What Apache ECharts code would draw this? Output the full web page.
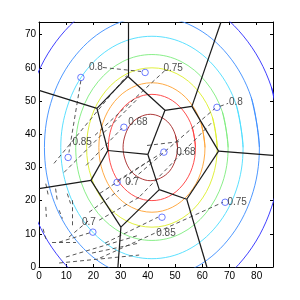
<!DOCTYPE html>
<html><head><meta charset="utf-8">
<script src="https://cdn.jsdelivr.net/npm/echarts@6/dist/echarts.min.js"></script>
<style>html,body{margin:0;padding:0;background:#fff}#c{width:300px;height:300px}</style>
</head><body><div id="c"></div>
<script>
// ---- data ----
const xTicks = [0,10,20,30,40,50,60,70,80];
const yTicks = [0,10,20,30,40,50,60,70];
const xMax = 86, yMax = 73.8;

// contour lines (outer -> inner)
const contourBlue = [[89,36],[85.4,54.2],[75.1,69.6],[59.7,79.9],[41.5,83.5],[23.3,79.9],[7.9,69.6],[-2.4,54.2],[-6,36],[-2.4,17.8],[7.9,2.4],[23.3,-7.9],[41.5,-11.5],[59.7,-7.9],[75.1,2.4],[85.4,17.8],[89,36],[85.4,54.2]];
const contourAzure = [[81,36],[78,51.1],[69.4,63.9],[56.6,72.5],[41.5,75.5],[26.4,72.5],[13.6,63.9],[5,51.1],[2,36],[5,20.9],[13.6,8.1],[26.4,-0.5],[41.5,-3.5],[56.6,-0.5],[69.4,8.1],[78,20.9],[81,36],[78,51.1]];
const contourCyan = [[75,36],[72.5,48.8],[65.2,59.7],[54.3,67],[41.5,69.5],[28.7,67],[17.8,59.7],[10.6,48.8],[8,36],[10.6,23.2],[17.8,12.3],[28.7,5],[41.5,2.5],[54.3,5],[65.2,12.3],[72.5,23.2],[75,36],[72.5,48.8]];
const contourGreen = [[69.5,36],[67.4,46.7],[61.3,55.8],[52.2,61.9],[41.5,64],[30.8,61.9],[21.7,55.8],[15.6,46.7],[13.5,36],[15.6,25.3],[21.7,16.2],[30.8,10.1],[41.5,8],[52.2,10.1],[61.3,16.2],[67.4,25.3],[69.5,36],[67.4,46.7]];
const contourYellow = [[65.5,36],[63.7,45.2],[58.5,53],[50.7,58.2],[41.5,60],[32.3,58.2],[24.5,53],[19.3,45.2],[17.5,36],[19.3,26.8],[24.5,19],[32.3,13.8],[41.5,12],[50.7,13.8],[58.5,19],[63.7,26.8],[65.5,36],[63.7,45.2]];
const contourOrange = [[61,36],[59.5,43.5],[55.3,49.8],[49,54],[41.5,55.5],[34,54],[27.7,49.8],[23.5,43.5],[22,36],[23.5,28.5],[27.7,22.2],[34,18],[41.5,16.5],[49,18],[55.3,22.2],[59.5,28.5],[61,36],[59.5,43.5]];
const contourRed = [[57.5,36],[56.3,42.1],[52.8,47.3],[47.6,50.8],[41.5,52],[35.4,50.8],[30.2,47.3],[26.7,42.1],[25.5,36],[26.7,29.9],[30.2,24.7],[35.4,21.2],[41.5,20],[47.6,21.2],[52.8,24.7],[56.3,29.9],[57.5,36],[56.3,42.1]];
const contourDarkRed = [[50.9,36],[50.1,39.8],[48,43.1],[44.7,45.2],[40.9,46],[37.1,45.2],[33.8,43.1],[31.7,39.8],[30.9,36],[31.7,32.2],[33.8,28.9],[37.1,26.8],[40.9,26],[44.7,26.8],[48,28.9],[50.1,32.2],[50.9,36],[50.1,39.8]];

// Voronoi edges
const voronoiEdges = [
  [[0,53.2],[21.3,47.8]], [[21.3,47.8],[32.7,57.4]], [[21.3,47.8],[25.3,35.1]],
  [[32.7,57.4],[32.7,73.8]], [[32.7,57.4],[46.3,47.2]], [[46.3,47.2],[56.2,48.4]],
  [[46.3,47.2],[40.0,33.9]], [[56.2,48.4],[66.9,73.8]], [[56.2,48.4],[66.0,34.9]],
  [[66.0,34.9],[86,33.6]], [[66.0,34.9],[54.3,20.4]], [[54.3,20.4],[61.7,0]],
  [[54.3,20.4],[44.2,23.3]], [[44.2,23.3],[40.0,33.9]], [[44.2,23.3],[30.1,12.0]],
  [[30.1,12.0],[29.0,0]], [[30.1,12.0],[19.1,26.1]], [[19.1,26.1],[25.3,35.1]],
  [[19.1,26.1],[0,23.6]], [[25.3,35.1],[40.0,33.9]]
];

// sites and their values
const siteX = [15.4, 39.0, 65.4, 31.2, 45.9, 28.7, 19.8, 10.7, 45.2, 68.4];
const siteY = [57.1, 58.6, 48.1, 42.1, 34.6, 25.5, 10.5, 33.0, 15.0, 19.5];
const siteLabels = ['0.8','0.75','0.8','0.68','0.68','0.7','0.7','0.85','0.85','0.75'];

// dashed trajectories
const dashedPaths = [
  [[23.5,60.1],[37.5,58.9]], [[15.4,56.2],[11.0,34.5]], [[5.5,31.2],[32.3,57.7]],
  [[9.2,28.5],[36.8,51.1]], [[17.3,30.6],[30.5,41.8]], [[20.6,39.7],[46.3,59.2]],
  [[32.7,25.2],[64.7,47.8]], [[37.1,21.3],[63.6,43.6]], [[39.7,36.6],[51.8,37.8]],
  [[29.0,26.1],[44.8,34.2]], [[4.8,7.5],[13.6,7.5]], [[7.4,7.5],[19.5,10.5]],
  [[9.9,3.0],[36.8,9.6]], [[19.5,4.2],[36.8,7.2]], [[7.4,1.2],[36.8,3.6]],
  [[11.0,9.0],[18.4,14.1]], [[18.4,16.5],[29.4,23.1]], [[22.1,14.1],[36.8,21.0]],
  [[12.1,20.1],[12.1,12.0]], [[24.3,7.2],[43.7,15.0]], [[22.4,2.7],[67.6,19.5]],
  [[22.4,22.2],[40.8,32.1]], [[66.5,48.4],[69.5,49.3]],
  [[2.5,25.1],[3.4,21.6]], [[6.1,23.6],[6.7,20.1]], [[10.4,22.1],[11.6,19.1]],
  [[2.5,18.1],[2.7,15.1]], [[7.4,17.1],[8.6,14.6]], [[1.5,11.5],[2.5,8.5]]
];

// ---- styling ----
const contourColors = ['#2a2aff','#3a8cff','#48dcff','#7cec7c','#dcee28','#ffa030','#ff3a3a','#a42424'];
const contours = [contourBlue, contourAzure, contourCyan, contourGreen, contourYellow, contourOrange, contourRed, contourDarkRed];
const labelOffsets = [[15,-10],[28,-4],[19,-5],[14,-5],[22,0],[15,0],[-4,-10],[14,-15],[4,16],[12,0]];
const font = 'Liberation Sans';

const series = [];
contours.forEach((c, i) => {
  series.push({type:'line', data:c, smooth:0.35, showSymbol:false, symbol:'none', clip:true,
    lineStyle:{color:contourColors[i], width:0.9}, z:2, silent:true});
});
series.push({type:'lines', coordinateSystem:'cartesian2d', polyline:false,
  data: dashedPaths.map(p => ({coords:p})),
  lineStyle:{color:'#444', width:0.9, type:[4,3], opacity:1}, z:3, silent:true});
series.push({type:'lines', coordinateSystem:'cartesian2d', polyline:false,
  data: voronoiEdges.map(p => ({coords:p})),
  lineStyle:{color:'#1a1a1a', width:1.2, opacity:1}, z:4, silent:true});
series.push({type:'scatter', symbol:'circle', symbolSize:6.5,
  itemStyle:{color:'rgba(0,0,0,0)', borderColor:'#4a5cff', borderWidth:1},
  data: siteX.map((x,i) => ({value:[x, siteY[i]],
    label:{show:true, position:'inside', offset:labelOffsets[i], formatter:siteLabels[i],
      color:'#222', fontSize:10, fontFamily:font}})),
  z:5, silent:true});

const axisCommon = (min, max, pos, showLabel, margin) => ({
  type:'value', min:min, max:max, interval:10, position:pos,
  axisLine:{show:true, onZero:false, lineStyle:{color:'#000', width:1}},
  axisTick:{show:true, inside:true, length:3, lineStyle:{color:'#000'}},
  axisLabel:{show:showLabel, color:'#000', fontSize:10, fontFamily:font, margin:margin,
    formatter: v => (Math.abs(v % 10) < 1e-6 ? String(v) : '')},
  splitLine:{show:false}
});

const chart = echarts.init(document.getElementById('c'), null, {renderer:'canvas'});
chart.setOption({
  animation:false,
  backgroundColor:'#fff',
  grid:{left:39, top:22, width:234, height:245, containLabel:false},
  xAxis:[axisCommon(0, xMax, 'bottom', true, 4), axisCommon(0, xMax, 'top', false, 4)],
  yAxis:[axisCommon(0, yMax, 'left', true, 3), axisCommon(0, yMax, 'right', false, 3)],
  series: series
});
</script></body></html>
